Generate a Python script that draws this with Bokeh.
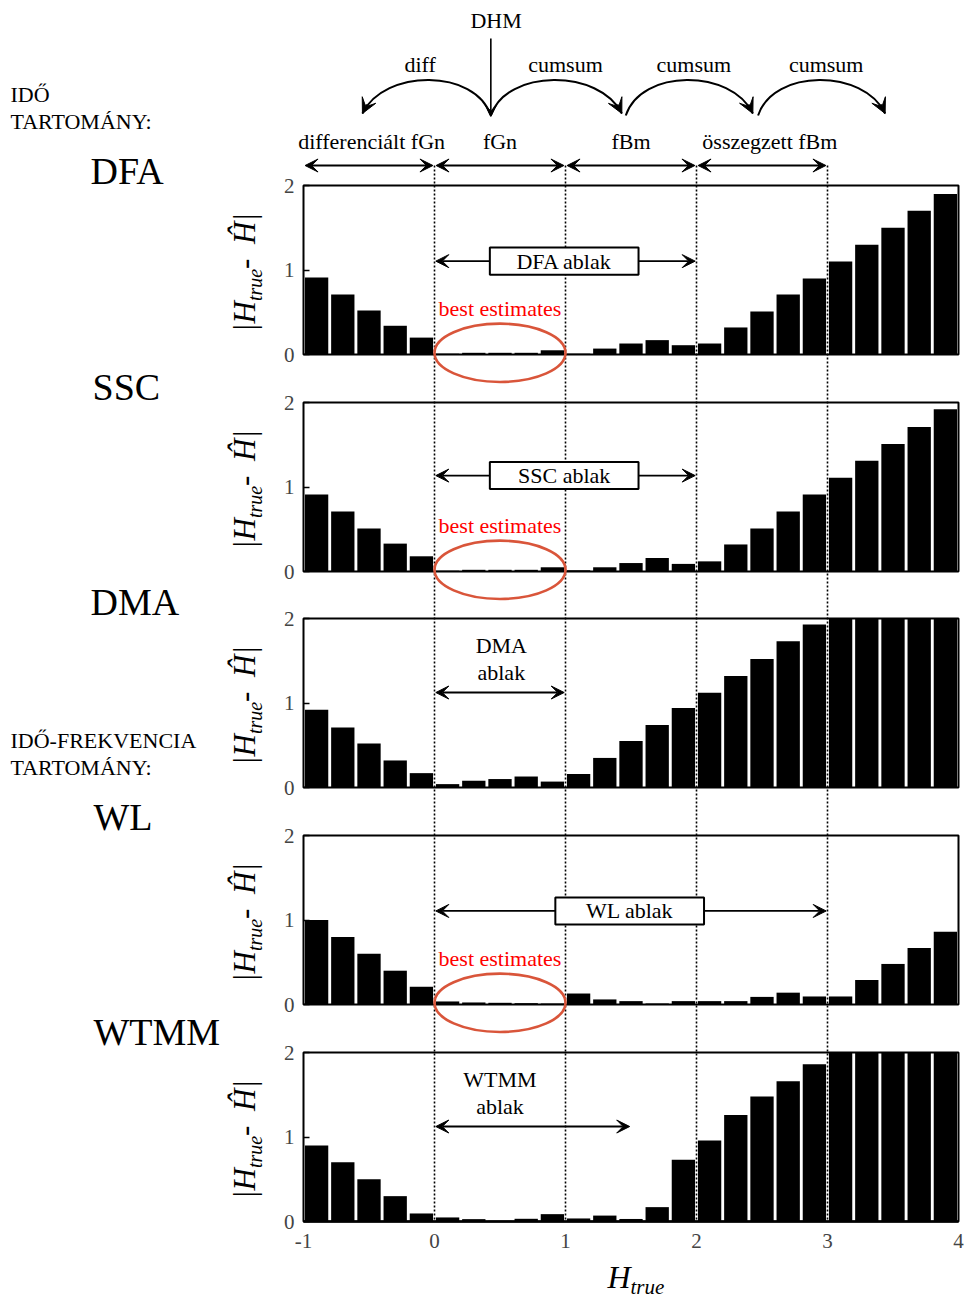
import math
from bokeh.plotting import figure
from bokeh.models import Range1d, LinearAxis, FixedTicker, Arrow, VeeHead
from bokeh.core.properties import value
from bokeh.embed import file_html
from bokeh.resources import INLINE

# ---------------------------------------------------------------- data
bin_centres = [-0.9, -0.7, -0.5, -0.3, -0.1, 0.1, 0.3, 0.5, 0.7, 0.9,
               1.1, 1.3, 1.5, 1.7, 1.9, 2.1, 2.3, 2.5, 2.7, 2.9,
               3.1, 3.3, 3.5, 3.7, 3.9]

err_dfa = [0.91, 0.71, 0.52, 0.34, 0.20, 0.01, 0.02, 0.02, 0.02, 0.05,
           0.01, 0.07, 0.13, 0.17, 0.11, 0.13, 0.32, 0.51, 0.71, 0.90,
           1.10, 1.30, 1.50, 1.70, 1.90]
err_ssc = [0.91, 0.71, 0.51, 0.33, 0.18, 0.01, 0.02, 0.02, 0.02, 0.05,
           0.015, 0.05, 0.10, 0.16, 0.09, 0.12, 0.32, 0.51, 0.71, 0.91,
           1.11, 1.31, 1.51, 1.71, 1.92]
err_dma = [0.92, 0.71, 0.52, 0.32, 0.17, 0.04, 0.08, 0.10, 0.13, 0.07,
           0.16, 0.35, 0.55, 0.74, 0.94, 1.12, 1.32, 1.52, 1.73, 1.93,
           2.0, 2.0, 2.0, 2.0, 2.0]
err_wl = [1.00, 0.80, 0.60, 0.40, 0.21, 0.036, 0.024, 0.02, 0.016, 0.012,
          0.13, 0.06, 0.04, 0.012, 0.04, 0.04, 0.04, 0.09, 0.14, 0.095,
          0.095, 0.29, 0.48, 0.67, 0.86]
err_wtmm = [0.90, 0.70, 0.50, 0.30, 0.095, 0.048, 0.028, 0.008, 0.032, 0.087,
            0.036, 0.07, 0.03, 0.17, 0.73, 0.96, 1.26, 1.48, 1.66, 1.86,
            2.0, 2.0, 2.0, 2.0, 2.0]

method_names = ["DFA", "SSC", "DMA", "WL", "WTMM"]
method_errors = [err_dfa, err_ssc, err_dma, err_wl, err_wtmm]
# range of H over which each method works (its "ablak")
window_ranges = [(0, 2), (0, 2), (0, 1), (0, 3), (0, 1.5)]
# methods whose window label sits in a framed box
window_boxed = [True, True, False, True, False]
window_label_x = [0.99, 0.99, 0.51, 1.49, 0.50]
window_label_y = [1.105, 1.135, 1.124, 1.107, 1.124]
best_estimate_panels = [0, 1, 3]

x_ticks = [-1, 0, 1, 2, 3, 4]
y_ticks = [0, 1, 2]

regime_edges = [0, 1, 2, 3]
regime_spans = [(-1, 0), (0, 1), (1, 2), (2, 3)]
regime_names = ["differenciált fGn", "fGn", "fBm", "összegzett fBm"]
regime_label_x = [-0.48, 0.50, 1.50, 2.56]

# transformation arcs between signal classes
arc_starts = [0.43, 0.43, 1.46, 2.47]
arc_ends = [-0.55, 1.43, 2.43, 3.44]
arc_names = ["diff", "cumsum", "cumsum", "cumsum"]
arc_label_x = [-0.11, 1.00, 1.98, 2.99]
dhm_x = 0.43

# ---------------------------------------------------------------- layout
PAGE_W, PAGE_H = 964, 1298
X0_PX, X_UNIT = 303, 131.0          # pixel of H = -1, pixels per unit H
Y_UNIT = 84.5                       # pixels per unit of error
panel_zero_px = [354, 571, 787, 1004, 1221]
panel_title_px = [(90, 170), (92, 386), (90, 601), (93, 816), (93, 1031)]

FONT = value("Liberation Serif")
BLACK = "black"
RED_TXT = "#ff0000"
RED_RING = "#d9553a"

p = figure(width=PAGE_W, height=PAGE_H,
           x_range=Range1d(-1 - X0_PX / X_UNIT, -1 + (PAGE_W - X0_PX) / X_UNIT),
           y_range=Range1d(PAGE_H, 0),
           output_backend="svg", toolbar_location=None,
           x_axis_location=None, y_axis_location=None,
           min_border=0, outline_line_color=None,
           background_fill_color="white", border_fill_color="white")
p.grid.visible = False

extra_y = {}
for k, z in enumerate(panel_zero_px):
    extra_y[f"p{k}"] = Range1d(-(PAGE_H - z) / Y_UNIT, z / Y_UNIT)
p.extra_y_ranges = extra_y
p.extra_x_ranges = {"page": Range1d(0, PAGE_W)}


def vee(size=13):
    return VeeHead(size=size, fill_color=BLACK, line_color=BLACK, line_width=1)


# dotted regime boundaries running through all panels
p.segment(x0=regime_edges, y0=[165] * len(regime_edges),
          x1=regime_edges, y1=[panel_zero_px[-1]] * len(regime_edges),
          line_color=BLACK, line_width=1.6, line_dash="2 2")

# ---------------------------------------------------------------- panels
for k, (name, errs) in enumerate(zip(method_names, method_errors)):
    rn = f"p{k}"
    p.vbar(x=bin_centres, top=errs, bottom=0, width=0.178,
           fill_color=BLACK, line_color=None, y_range_name=rn)
    p.quad(left=[-1], right=[4], bottom=[0], top=[2], fill_color=None,
           line_color=BLACK, line_width=2, y_range_name=rn)

    ax = LinearAxis(y_range_name=rn, fixed_location=-1,
                    ticker=FixedTicker(ticks=y_ticks), bounds=(0, 2),
                    axis_line_color=None, major_tick_in=6, major_tick_out=0,
                    major_tick_line_width=1.5, minor_tick_line_color=None,
                    major_label_text_font="Liberation Serif",
                    major_label_text_font_size="21px",
                    major_label_standoff=9)
    p.add_layout(ax, "left")

    # fitting window of the method
    lo, hi = window_ranges[k]
    wx, wy = window_label_x[k], window_label_y[k]
    if window_boxed[k]:
        bw = 1.135
        p.rect(x=[wx], y=[wy], width=bw, height=0.32, fill_color="white",
               line_color=BLACK, line_width=2, y_range_name=rn)
        p.text(x=[wx], y=[wy], text=[f"{name} ablak"], text_font=FONT,
               text_font_size="22px", text_align="center",
               text_baseline="middle", text_color=BLACK, y_range_name=rn)
        p.add_layout(Arrow(x_start=wx - bw / 2, y_start=wy, x_end=lo + 0.01,
                           y_end=wy, end=vee(), line_width=1.8,
                           y_range_name=rn))
        p.add_layout(Arrow(x_start=wx + bw / 2, y_start=wy, x_end=hi - 0.01,
                           y_end=wy, end=vee(), line_width=1.8,
                           y_range_name=rn))
    else:
        p.text(x=[wx, wx], y=[wy + 0.56, wy + 0.24], text=[name, "ablak"],
               text_font=FONT, text_font_size="22px", text_align="center",
               text_baseline="middle", text_color=BLACK, y_range_name=rn)
        p.add_layout(Arrow(x_start=lo + 0.01, y_start=wy, x_end=hi - 0.01,
                           y_end=wy, start=vee(), end=vee(), line_width=1.8,
                           y_range_name=rn))

    if k in best_estimate_panels:
        p.ellipse(x=[0.5], y=[0.02], width=1.0, height=0.69, fill_color=None,
                  line_color=RED_RING, line_width=2.6, y_range_name=rn)
        p.text(x=[0.5], y=[0.54], text=["best estimates"], text_font=FONT,
               text_font_size="22px", text_align="center",
               text_baseline="middle", text_color=RED_TXT, y_range_name=rn)

    # method name on the left
    tx, ty = panel_title_px[k]
    p.text(x=[tx], y=[ty], text=[name], text_font=FONT, text_font_size="38px",
           text_align="left", text_baseline="middle", text_color=BLACK,
           x_range_name="page")

    # rotated y label |H_true - Ĥ|
    yc = panel_zero_px[k] - Y_UNIT
    p.text(x=[244, 244, 244], y=[yc + 62, yc - 1, yc - 26],
           text=["|H", " - ", "Ĥ|"], angle=math.pi / 2, text_font=FONT,
           text_font_style="italic", text_font_size="31px", text_align="left",
           text_baseline="middle", text_color=BLACK, x_range_name="page")
    p.text(x=[254], y=[yc + 31], text=["true"], angle=math.pi / 2,
           text_font=FONT, text_font_style="italic", text_font_size="20px",
           text_align="left", text_baseline="middle", text_color=BLACK,
           x_range_name="page")

# bottom H axis
xa = LinearAxis(y_range_name=f"p{len(panel_zero_px) - 1}", fixed_location=0,
                ticker=FixedTicker(ticks=x_ticks), bounds=(-1, 4),
                axis_line_color=BLACK, axis_line_width=2.5,
                major_tick_in=0, major_tick_out=0, minor_tick_line_color=None,
                major_label_text_font="Liberation Serif",
                major_label_text_font_size="21px", major_label_standoff=12,
                major_label_overrides={-1: "-1"})
p.add_layout(xa, "below")
p.text(x=[607], y=[1276], text=["H"], text_font=FONT, text_font_style="italic",
       text_font_size="32px", text_align="left", text_baseline="middle",
       text_color=BLACK, x_range_name="page")
p.text(x=[630], y=[1286], text=["true"], text_font=FONT,
       text_font_style="italic", text_font_size="21px", text_align="left",
       text_baseline="middle", text_color=BLACK, x_range_name="page")

# domain headings
p.text(x=[10, 10, 10, 10], y=[94, 121, 740, 767],
       text=["IDŐ", "TARTOMÁNY:", "IDŐ-FREKVENCIA", "TARTOMÁNY:"],
       text_font=FONT, text_font_size="22px", text_align="left",
       text_baseline="middle", text_color=BLACK, x_range_name="page")

# ---------------------------------------------------------------- signal classes
for (a, b), lx, lab in zip(regime_spans, regime_label_x, regime_names):
    p.add_layout(Arrow(x_start=a + 0.012, y_start=165, x_end=b - 0.012,
                       y_end=165, start=vee(), end=vee(), line_width=2))
    p.text(x=[lx], y=[141], text=[lab], text_font=FONT, text_font_size="22px",
           text_align="center", text_baseline="middle", text_color=BLACK)

ARC_Y0, ARC_CTRL = 115, 68
for xs, xe, lx, lab in zip(arc_starts, arc_ends, arc_label_x, arc_names):
    d = xe - xs
    c0x, c1x = xs + 0.12 * d, xe - 0.17 * d
    p.bezier(x0=[xs], y0=[ARC_Y0], x1=[xe], y1=[ARC_Y0 - 2],
             cx0=[c0x], cy0=[ARC_CTRL], cx1=[c1x], cy1=[ARC_CTRL],
             line_color=BLACK, line_width=2)
    p.add_layout(Arrow(x_start=xe - 0.2 * (xe - c1x),
                       y_start=ARC_Y0 - 2 - 0.2 * (ARC_Y0 - 2 - ARC_CTRL),
                       x_end=xe, y_end=ARC_Y0 - 2, end=vee(15), line_width=2))
    p.text(x=[lx], y=[64], text=[lab], text_font=FONT, text_font_size="22px",
           text_align="center", text_baseline="middle", text_color=BLACK)

p.add_layout(Arrow(x_start=dhm_x, y_start=38, x_end=dhm_x, y_end=116,
                   end=VeeHead(size=11, fill_color=BLACK, line_color=BLACK),
                   line_width=1.6))
p.text(x=[dhm_x + 0.04], y=[20], text=["DHM"], text_font=FONT,
       text_font_size="22px", text_align="center", text_baseline="middle",
       text_color=BLACK)

open("out.html", "w").write(file_html(p, INLINE))
